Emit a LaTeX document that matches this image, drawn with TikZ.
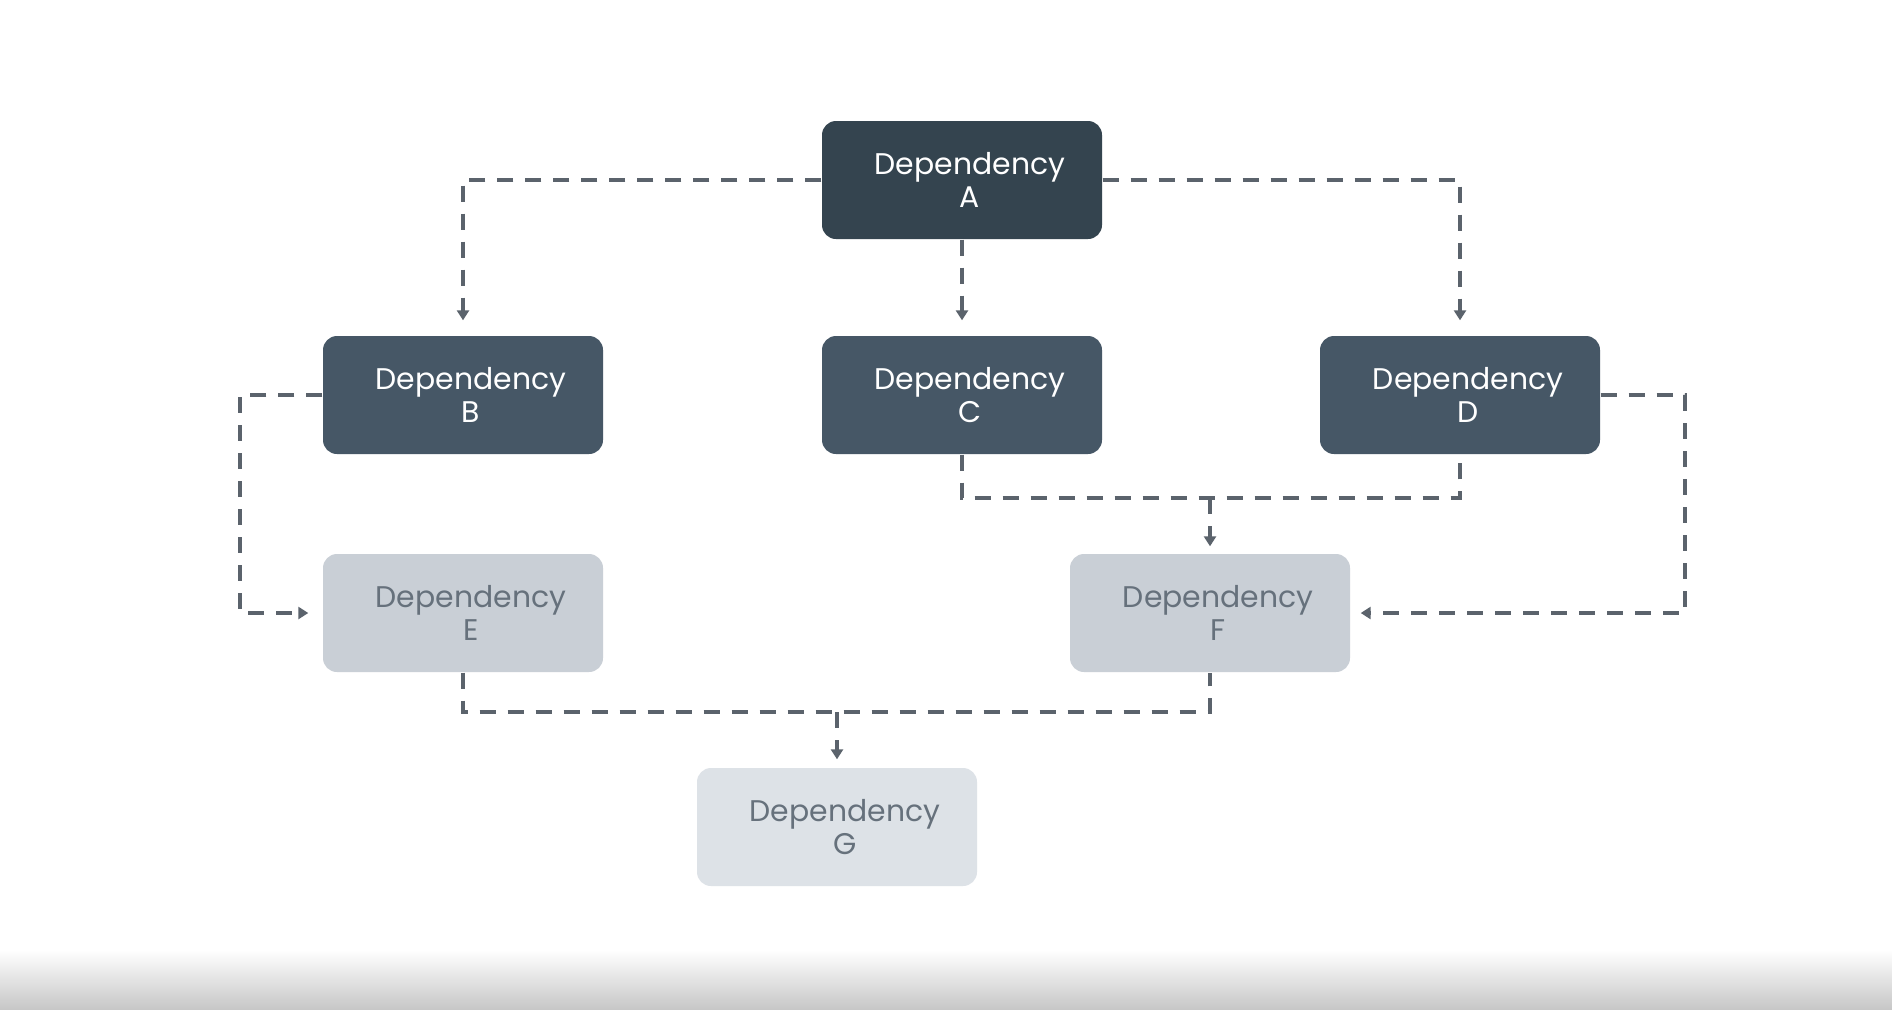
\documentclass[tikz,border=0pt]{standalone}
\usepackage{fontspec}
\setmainfont{Poppins}
\usetikzlibrary{arrows.meta}

\definecolor{topdark}{HTML}{34444F}
\definecolor{middark}{HTML}{465766}
\definecolor{lightgrey}{HTML}{C9CFD6}
\definecolor{palegrey}{HTML}{DDE2E7}
\definecolor{textgrey}{HTML}{66717C}
\definecolor{linegrey}{HTML}{5B636C}

\newcommand{\deptext}[1]{\hspace*{1.6mm}Dependency\\\hspace*{1.6mm}#1}

\tikzset{
  depbox/.style={rounded corners=1.4mm, minimum width=28mm, minimum height=11.8mm,
    align=center, font=\fontsize{8.5}{9.5}\selectfont, inner sep=0pt},
  darkbox/.style={depbox, fill=topdark, text=white},
  midbox/.style={depbox, fill=middark, text=white},
  lightbox/.style={depbox, fill=lightgrey, text=textgrey},
  palebox/.style={depbox, fill=palegrey, text=textgrey},
  link/.style={draw=linegrey, line width=0.38mm, dash pattern=on 1.6mm off 1.2mm},
  dep/.style={link, -{Triangle[width=1.2mm,length=1mm]}}
}

\begin{document}
\begin{tikzpicture}[x=0.1mm, y=-0.1mm]

\useasboundingbox (0,0) rectangle (1892,1009);
\fill[white] (0,0) rectangle (1892,1009);
\shade[top color=white, bottom color=black!22] (0,950) rectangle (1892,1009);

\node(depA)[darkbox] at (962,180) {\deptext{A}};
\node(depB)[midbox] at (463,395) {\deptext{B}};
\node(depC)[midbox] at (962,395) {\deptext{C}};
\node(depD)[midbox] at (1460,395) {\deptext{D}};
\node(depE)[lightbox] at (463,613) {\deptext{E}};
\node(depF)[lightbox] at (1210,613) {\deptext{F}};
\node(depG)[palebox] at (837,827) {\deptext{G}};

\coordinate(cd) at (1210,498);
\coordinate(ef) at (837,712);

\draw[dep, shorten >=1.5mm] (depA.west) -| (depB.north);
\draw[dep, shorten >=1.5mm] (depA.south) -- (depC.north);
\draw[dep, shorten >=1.5mm] (depA.east) -| (depD.north);

\draw[dep, shorten >=1.4mm] (depB.west) -- ++(-82,0) |- (depE.west);

\draw[link] (depC.south) |- (cd) -| (depD.south);
\draw[dep, shorten >=0.7mm] (cd) -- (depF.north);
\draw[dep, shorten >=1mm] (depD.east) -- ++(84,0) |- (depF.east);

\draw[link] (depE.south) |- (ef) -| (depF.south);
\draw[dep, shorten >=0.8mm] (ef) -- (depG.north);

\end{tikzpicture}
\end{document}
